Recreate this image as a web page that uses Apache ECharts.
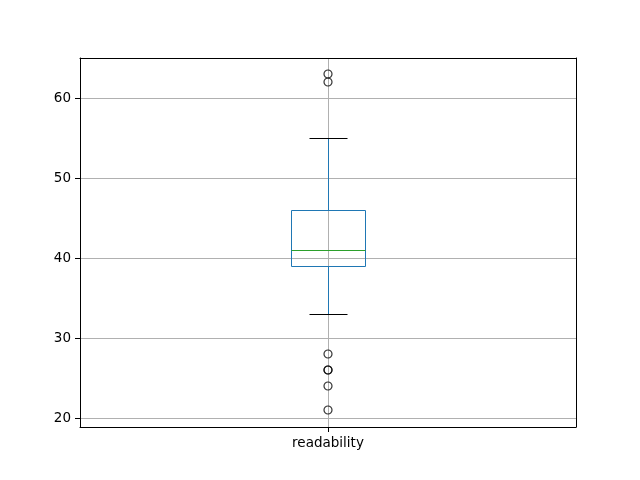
<!DOCTYPE html>
<html>
<head>
<meta charset="utf-8">
<script src="https://cdn.jsdelivr.net/npm/echarts@6/dist/echarts.min.js"></script>
<style>
  html, body { margin: 0; padding: 0; background: #fff; }
  #chart { width: 640px; height: 480px; }
</style>
</head>
<body>
<div id="chart"></div>
<script>
// box stats: [low whisker, Q1, median, Q3, high whisker]
const categories = ['readability']
const boxStats = [[33, 39, 41, 46, 55]]
const outliers = [63, 62, 28, 26, 26, 24, 21]
const yTicks = [20, 30, 40, 50, 60]

const chart = echarts.init(document.getElementById('chart'))

const boxData = boxStats.map((s, i) => [i + 1].concat(s))
const flierData = outliers.map(v => [1, v])
const xTicks = categories.map((c, i) => i + 1)

const axisText = { color: '#000', fontSize: 13.5, fontFamily: 'DejaVu Sans' }
const crisp = v => Math.round(v - 0.5) + 0.5

// frame-only axes for the top and right edges
const frameAxis = {
  axisLine: { show: true, lineStyle: { color: '#000' } },
  axisTick: { show: false },
  axisLabel: { show: false },
  splitLine: { show: false }
}

chart.setOption({
  animation: false,
  grid: {
    left: 80,
    right: 64,
    top: 58,
    bottom: 53
  },
  xAxis: [
    {
      type: 'value',
      min: 0.5,
      max: 1.5,
      axisLine: { show: true, lineStyle: { color: '#000' } },
      axisTick: { show: true, length: 5, lineStyle: { color: '#000' }, customValues: xTicks },
      axisLabel: Object.assign({
        margin: 9,
        customValues: xTicks,
        formatter: v => categories[Math.round(v) - 1] || ''
      }, axisText),
      splitLine: { show: true, lineStyle: { color: '#b0b0b0', width: 1 } }
    },
    Object.assign({ type: 'value', min: 0.5, max: 1.5, position: 'top' }, frameAxis)
  ],
  yAxis: [
    {
      type: 'value',
      min: 18.875,
      max: 65,
      axisLine: { show: true, lineStyle: { color: '#000' } },
      axisTick: { show: true, length: 5, lineStyle: { color: '#000' }, customValues: yTicks },
      axisLabel: Object.assign({
        margin: 9,
        customValues: yTicks
      }, axisText),
      splitLine: { show: true, lineStyle: { color: '#b0b0b0', width: 1 } }
    },
    Object.assign({ type: 'value', min: 18.875, max: 65, position: 'right' }, frameAxis)
  ],
  series: [
    {
      type: 'custom',
      data: boxData,
      z: 3,
      renderItem: (params, api) => {
        const x = api.value(0)
        const half = Math.round(api.size([0.15, 0])[0] / 2)
        const capHalf = Math.round(half / 2)
        const cx = crisp(api.coord([x, api.value(1)])[0])
        const y = i => crisp(api.coord([x, api.value(i)])[1])
        const low = y(1)
        const q1 = y(2)
        const med = y(3)
        const q3 = y(4)
        const high = y(5)
        const blue = { stroke: '#1f77b4', lineWidth: 1, fill: null }
        const black = { stroke: '#000', lineWidth: 1 }
        return {
          type: 'group',
          children: [
            { type: 'line', shape: { x1: cx, y1: q1, x2: cx, y2: low }, style: blue },
            { type: 'line', shape: { x1: cx, y1: q3, x2: cx, y2: high }, style: blue },
            { type: 'line', shape: { x1: cx - capHalf, y1: low, x2: cx + capHalf, y2: low }, style: black },
            { type: 'line', shape: { x1: cx - capHalf, y1: high, x2: cx + capHalf, y2: high }, style: black },
            { type: 'rect', shape: { x: cx - half, y: q3, width: half * 2, height: q1 - q3 }, style: blue },
            { type: 'line', shape: { x1: cx - half, y1: med, x2: cx + half, y2: med }, style: { stroke: '#2ca02c', lineWidth: 1 } }
          ]
        }
      }
    },
    {
      type: 'scatter',
      data: flierData,
      z: 4,
      symbol: 'circle',
      symbolSize: 8,
      itemStyle: { color: 'rgba(0,0,0,0)', borderColor: '#000', borderWidth: 1.2 }
    }
  ]
})
</script>
</body>
</html>
